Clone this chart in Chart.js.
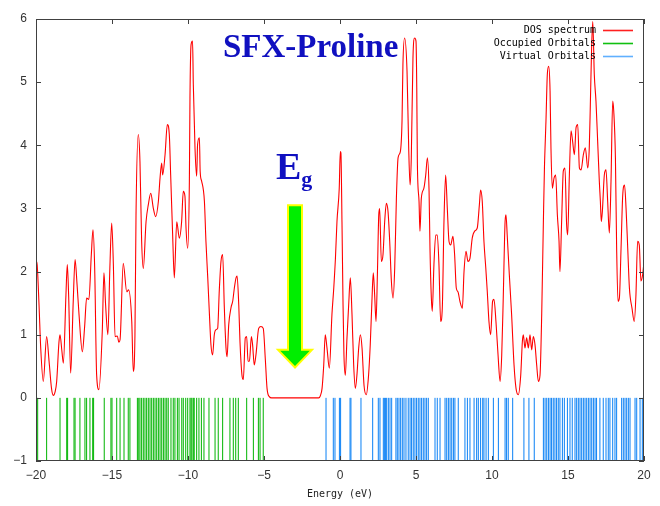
<!DOCTYPE html>
<html>
<head>
<meta charset="utf-8">
<script src="https://cdn.jsdelivr.net/npm/chart.js@4/dist/chart.umd.min.js"></script>
<style>
  html, body { margin: 0; padding: 0; background: #ffffff; }
  #wrap { width: 660px; height: 506px; }
</style>
</head>
<body>
<div id="wrap"><canvas id="dos" width="660" height="506"></canvas></div>
<script>
// Density of states (broadened), energy in eV
const dosEnergy = [
  -20.00, -19.97, -19.92, -19.80, -19.69, -19.52, -19.30, -19.14, -18.98, -18.86,
  -18.74, -18.64, -18.49, -18.42, -18.30, -18.20, -18.03, -17.94, -17.85, -17.72,
  -17.55, -17.43, -17.30, -17.17, -16.95, -16.80, -16.67, -16.52, -16.36, -16.25,
  -16.14, -16.01, -15.86, -15.64, -15.53, -15.42, -15.27, -15.14, -15.02, -14.91,
  -14.80, -14.65, -14.55, -14.47, -14.26, -14.03, -13.91, -13.70, -13.60, -13.49,
  -13.42, -13.27, -13.16, -13.05, -12.94, -12.76, -12.61, -12.45, -12.28, -12.13,
  -11.95, -11.84, -11.73, -11.67, -11.51, -11.36, -11.23, -11.14, -11.01, -10.90,
  -10.74, -10.57, -10.42, -10.31, -10.20, -10.13, -10.02, -9.91, -9.87, -9.80,
  -9.70, -9.65, -9.54, -9.43, -9.37, -9.25, -9.20, -9.10, -8.92, -8.82,
  -8.70, -8.59, -8.49, -8.38, -8.27, -8.16, -8.05, -7.94, -7.83, -7.72,
  -7.61, -7.50, -7.43, -7.32, -7.17, -7.06, -6.95, -6.84, -6.77, -6.66,
  -6.58, -6.45, -6.36, -6.23, -6.14, -6.05, -5.96, -5.83, -5.75, -5.64,
  -5.53, -5.35, -5.20, -5.05, -4.91, -4.80, -4.65, -4.50, -3.00, -1.40,
  -1.30, -1.18, -1.07, -0.97, -0.86, -0.70, -0.53, -0.41, -0.30, -0.20,
  -0.05, 0.02, 0.06, 0.13, 0.20, 0.26, 0.35, 0.46, 0.57, 0.68,
  0.79, 0.90, 1.01, 1.12, 1.23, 1.34, 1.45, 1.58, 1.73, 1.88,
  1.99, 2.10, 2.19, 2.28, 2.37, 2.46, 2.55, 2.61, 2.72, 2.83,
  2.94, 3.05, 3.16, 3.27, 3.38, 3.49, 3.60, 3.71, 3.82, 3.97,
  4.08, 4.14, 4.25, 4.41, 4.52, 4.61, 4.69, 4.80, 4.91, 5.00,
  5.05, 5.09, 5.20, 5.26, 5.35, 5.52, 5.64, 5.75, 5.86, 5.92,
  6.01, 6.07, 6.18, 6.30, 6.40, 6.51, 6.62, 6.73, 6.84, 6.95,
  7.06, 7.17, 7.28, 7.43, 7.54, 7.65, 7.76, 7.89, 8.05, 8.16,
  8.29, 8.42, 8.55, 8.70, 8.86, 9.03, 9.17, 9.25, 9.36, 9.47,
  9.59, 9.69, 9.80, 9.91, 10.04, 10.13, 10.26, 10.41, 10.53, 10.64,
  10.74, 10.86, 10.92, 11.00, 11.14, 11.29, 11.45, 11.58, 11.73, 11.89,
  12.00, 12.06, 12.17, 12.28, 12.39, 12.50, 12.61, 12.72, 12.83, 12.94,
  13.05, 13.16, 13.27, 13.38, 13.45, 13.55, 13.64, 13.73, 13.82, 13.88,
  13.97, 14.08, 14.19, 14.30, 14.41, 14.47, 14.58, 14.69, 14.80, 14.91,
  14.98, 15.09, 15.20, 15.30, 15.42, 15.53, 15.64, 15.75, 15.86, 16.01,
  16.14, 16.30, 16.40, 16.47, 16.56, 16.63, 16.73, 16.84, 16.95, 17.06,
  17.13, 17.19, 17.26, 17.39, 17.50, 17.61, 17.72, 17.83, 17.94, 18.01,
  18.12, 18.20, 18.29, 18.38, 18.49, 18.60, 18.72, 18.82, 18.93, 19.04,
  19.21, 19.36, 19.47, 19.58, 19.69, 19.80, 19.91, 20.00
];
const dosValue = [
  1.76, 2.16, 2.10, 1.47, 0.79, 0.26, 0.97, 0.58, 0.15, 0.04,
  0.10, 0.26, 0.88, 1.00, 0.75, 0.55, 1.63, 2.11, 1.60, 0.39,
  1.53, 2.19, 1.80, 1.32, 0.73, 1.13, 1.58, 1.56, 2.27, 2.66,
  2.06, 0.36, 0.13, 1.05, 1.98, 1.47, 1.00, 2.06, 2.77, 2.11,
  0.97, 0.98, 0.88, 0.92, 2.13, 1.68, 1.71, 1.21, 0.42, 1.00,
  2.90, 4.17, 3.74, 2.48, 2.05, 2.79, 3.06, 3.24, 3.00, 2.87,
  3.11, 3.48, 3.72, 3.53, 3.85, 4.33, 4.17, 3.53, 2.58, 1.90,
  2.79, 2.53, 2.79, 3.27, 3.19, 2.69, 2.37, 3.43, 4.75, 5.59,
  5.65, 4.96, 3.96, 3.51, 4.01, 4.12, 3.59, 3.43, 3.11, 2.48,
  1.90, 1.32, 0.84, 0.68, 1.00, 1.08, 1.10, 1.71, 2.16, 2.27,
  1.43, 0.79, 0.65, 1.16, 1.43, 1.53, 1.74, 1.90, 1.93, 1.47,
  0.89, 0.36, 0.29, 0.95, 0.97, 0.58, 0.58, 0.97, 0.84, 0.52,
  0.68, 1.10, 1.13, 1.10, 0.60, 0.15, 0.02, 0.00, 0.00, 0.00,
  0.03, 0.15, 0.52, 1.00, 0.80, 0.47, 1.32, 1.74, 2.21, 2.79,
  3.32, 3.90, 3.88, 2.79, 1.47, 0.68, 0.36, 0.95, 1.47, 1.90,
  1.32, 0.52, 0.15, 0.38, 0.79, 1.00, 0.79, 0.20, 0.05, 0.36,
  0.84, 1.53, 1.98, 1.63, 1.21, 1.95, 2.90, 3.00, 2.16, 2.27,
  2.79, 3.08, 2.95, 2.48, 1.85, 1.58, 2.06, 3.16, 3.80, 3.90,
  4.38, 5.28, 5.70, 5.17, 3.95, 3.37, 3.80, 5.38, 5.70, 5.65,
  4.91, 3.72, 3.11, 2.64, 3.16, 3.32, 3.53, 3.80, 3.27, 2.37,
  1.58, 1.37, 2.11, 2.58, 2.58, 2.11, 1.21, 1.42, 2.79, 3.53,
  3.00, 2.48, 2.42, 2.56, 2.27, 1.74, 1.68, 1.53, 1.42, 2.00,
  2.32, 2.16, 2.21, 2.53, 2.64, 2.69, 3.06, 3.29, 3.11, 2.48,
  2.06, 1.68, 1.21, 1.00, 1.53, 1.56, 1.21, 0.63, 0.26, 0.68,
  1.58, 2.79, 2.90, 2.58, 1.95, 1.32, 0.52, 0.15, 0.05, 0.36,
  0.90, 1.00, 0.79, 0.95, 0.79, 1.00, 0.76, 0.97, 0.84, 0.52,
  0.26, 0.36, 1.32, 2.79, 3.64, 4.38, 5.12, 5.25, 4.86, 3.95,
  3.32, 3.48, 3.53, 2.90, 2.48, 2.00, 2.79, 3.59, 3.64, 2.74,
  2.58, 3.53, 4.23, 4.07, 3.85, 4.28, 4.33, 3.64, 3.61, 3.85,
  3.96, 3.64, 3.96, 4.65, 5.60, 5.96, 5.12, 4.70, 4.07, 3.43,
  3.11, 2.79, 2.95, 3.53, 3.61, 3.11, 2.61, 3.43, 4.70, 4.54,
  3.80, 2.37, 1.53, 1.58, 2.37, 3.21, 3.37, 3.00, 2.37, 1.74,
  1.42, 1.21, 1.63, 2.48, 2.42, 1.85, 1.95, 2.16
];

// Orbital eigenvalues (eV)
const occupiedLevels = [
  -19.96, -19.89, -19.30, -18.42, -17.98, -17.92, -17.50, -17.43, -17.11, -16.78,
  -16.67, -16.45, -16.27, -16.21, -15.51, -15.07, -15.00, -14.69, -14.47, -14.21,
  -13.93, -13.82, -13.33, -13.24, -13.16, -13.05, -12.94, -12.83, -12.72, -12.61,
  -12.50, -12.39, -12.28, -12.17, -12.06, -11.95, -11.84, -11.73, -11.62, -11.51,
  -11.40, -11.30, -11.12, -10.97, -10.86, -10.70, -10.59, -10.41, -10.31, -10.15,
  -10.02, -9.87, -9.80, -9.74, -9.65, -9.59, -9.43, -9.28, -9.12, -8.95,
  -8.62, -8.22, -8.01, -7.72, -7.24, -7.02, -6.86, -6.69, -6.14, -5.70,
  -5.37, -5.26, -5.05
];
const virtualLevels = [
  -0.92, -0.44, -0.33, -0.04, 0.04, 0.66, 0.72, 1.38, 2.15, 2.52,
  2.63, 2.85, 2.92, 3.00, 3.07, 3.18, 3.29, 3.40, 3.68, 3.77,
  3.88, 3.99, 4.10, 4.21, 4.34, 4.49, 4.61, 4.71, 4.82, 4.93,
  5.04, 5.15, 5.26, 5.37, 5.48, 5.59, 5.70, 5.81, 6.25, 6.40,
  6.58, 6.91, 7.02, 7.13, 7.24, 7.35, 7.46, 7.56, 7.78, 8.22,
  8.38, 8.55, 8.82, 8.99, 9.10, 9.25, 9.39, 9.47, 9.61, 9.76,
  10.09, 10.42, 10.86, 10.96, 11.07, 11.36, 12.10, 12.43, 12.78, 13.38,
  13.49, 13.60, 13.71, 13.82, 13.92, 14.03, 14.14, 14.25, 14.36, 14.47,
  14.63, 14.76, 14.96, 15.13, 15.28, 15.46, 15.57, 15.68, 15.79, 15.90,
  16.01, 16.12, 16.23, 16.34, 16.45, 16.56, 16.67, 16.78, 16.88, 17.10,
  17.32, 17.50, 17.65, 17.76, 17.94, 18.09, 18.20, 18.53, 18.64, 18.75,
  18.86, 18.97, 19.08, 19.41, 19.52, 19.74, 19.89, 20.00
];

const xTicks = [-20, -15, -10, -5, 0, 5, 10, 15, 20];
const yTicks = [-1, 0, 1, 2, 3, 4, 5, 6];

const seriesNames = ['DOS spectrum', 'Occupied Orbitals', 'Virtual Orbitals'];
const seriesColors = ['#ff0000', '#00b400', '#0a80f5'];
const keyColors = ['#ff2020', '#10c010', '#60b0ff'];

// each level becomes a stick from -1 to 0, separated by gaps
function sticks(levels) {
  const pts = [];
  levels.forEach(e => {
    pts.push({ x: e, y: -1 }, { x: e, y: 0 }, { x: e, y: null });
  });
  return pts;
}

const dosPoints = dosEnergy.map((e, i) => ({ x: e, y: dosValue[i] }));

const decor = {
  id: 'decor',
  afterDatasetsDraw(chart) {
    const { ctx, chartArea: a, scales: { x, y } } = chart;
    ctx.save();

    // plot frame
    ctx.strokeStyle = '#404040';
    ctx.lineWidth = 1;
    ctx.strokeRect(a.left + 0.5, a.top + 0.5, a.right - a.left - 1, a.bottom - a.top - 1);

    // inward tick marks on all four sides
    ctx.beginPath();
    xTicks.forEach(v => {
      const px = Math.round(x.getPixelForValue(v)) + 0.5;
      ctx.moveTo(px, a.bottom); ctx.lineTo(px, a.bottom - 5);
      ctx.moveTo(px, a.top); ctx.lineTo(px, a.top + 5);
    });
    yTicks.forEach(v => {
      const py = Math.round(y.getPixelForValue(v)) + 0.5;
      ctx.moveTo(a.left, py); ctx.lineTo(a.left + 5, py);
      ctx.moveTo(a.right, py); ctx.lineTo(a.right - 5, py);
    });
    ctx.stroke();

    // key, top right inside the plot
    ctx.font = '10px "DejaVu Sans Mono", monospace';
    ctx.textAlign = 'right';
    ctx.textBaseline = 'middle';
    const keyRight = a.right - 48;
    seriesNames.forEach((name, i) => {
      const rowY = a.top + 11 + i * 13;
      ctx.fillStyle = '#000000';
      ctx.fillText(name, keyRight, rowY);
      ctx.strokeStyle = keyColors[i];
      ctx.lineWidth = 1.6;
      ctx.beginPath();
      ctx.moveTo(keyRight + 7, rowY + 0.5);
      ctx.lineTo(keyRight + 37, rowY + 0.5);
      ctx.stroke();
    });

    // heading
    ctx.fillStyle = '#1010c0';
    ctx.textAlign = 'left';
    ctx.textBaseline = 'alphabetic';
    ctx.font = 'bold 33px "Liberation Serif", "Times New Roman", serif';
    ctx.fillText('SFX-Proline', x.getPixelForValue(-7.70), y.getPixelForValue(5.40));

    // band-gap label
    const gx = x.getPixelForValue(-4.21);
    const gy = y.getPixelForValue(3.46);
    ctx.font = 'bold 38px "Liberation Serif", "Times New Roman", serif';
    ctx.fillText('E', gx, gy);
    const ew = ctx.measureText('E').width;
    ctx.font = 'bold 22px "Liberation Serif", "Times New Roman", serif';
    ctx.fillText('g', gx + ew, gy + 7);

    // downward arrow into the gap
    const cx = x.getPixelForValue(-2.96);
    const top = y.getPixelForValue(3.05);
    const neck = y.getPixelForValue(0.76);
    const tip = y.getPixelForValue(0.48);
    const sw = 7, hw = 17;
    ctx.beginPath();
    ctx.moveTo(cx - sw, top);
    ctx.lineTo(cx + sw, top);
    ctx.lineTo(cx + sw, neck);
    ctx.lineTo(cx + hw, neck);
    ctx.lineTo(cx, tip);
    ctx.lineTo(cx - hw, neck);
    ctx.lineTo(cx - sw, neck);
    ctx.closePath();
    ctx.fillStyle = '#00ee00';
    ctx.fill();
    ctx.strokeStyle = '#ffff00';
    ctx.lineWidth = 2;
    ctx.lineJoin = 'miter';
    ctx.stroke();

    ctx.restore();
  }
};

new Chart(document.getElementById('dos'), {
  type: 'line',
  data: {
    datasets: [
      {
        label: seriesNames[0],
        data: dosPoints,
        borderColor: seriesColors[0],
        borderWidth: 1.1,
        pointRadius: 0,
        cubicInterpolationMode: 'monotone',
        fill: false,
        order: 1
      },
      {
        label: seriesNames[1],
        data: sticks(occupiedLevels),
        borderColor: seriesColors[1],
        borderWidth: 1,
        pointRadius: 0,
        spanGaps: false,
        order: 2
      },
      {
        label: seriesNames[2],
        data: sticks(virtualLevels),
        borderColor: seriesColors[2],
        borderWidth: 1,
        pointRadius: 0,
        spanGaps: false,
        order: 3
      }
    ]
  },
  options: {
    responsive: false,
    devicePixelRatio: 1,
    animation: false,
    layout: { padding: { top: 19, right: 16, left: 0, bottom: 0 } },
    plugins: {
      legend: { display: false },
      tooltip: { enabled: false }
    },
    scales: {
      x: {
        type: 'linear',
        min: -20,
        max: 20,
        afterBuildTicks: s => { s.ticks = xTicks.map(v => ({ value: v })); },
        afterFit: s => { s.height = 45; },
        grid: { display: false, drawTicks: false },
        border: { display: false },
        ticks: {
          padding: 7,
          color: '#333333',
          font: { family: '"Liberation Sans", Arial, sans-serif', size: 12 },
          callback: v => String(v).replace('-', '\u2212')
        },
        title: {
          display: true,
          text: 'Energy (eV)',
          color: '#222222',
          font: { family: '"DejaVu Sans Mono", monospace', size: 10 },
          padding: { top: 0, bottom: 6 }
        }
      },
      y: {
        type: 'linear',
        min: -1,
        max: 6,
        afterBuildTicks: s => { s.ticks = yTicks.map(v => ({ value: v })); },
        afterFit: s => { s.width = 36; },
        grid: { display: false, drawTicks: false },
        border: { display: false },
        ticks: {
          padding: 9,
          color: '#333333',
          font: { family: '"Liberation Sans", Arial, sans-serif', size: 12 },
          callback: v => String(v).replace('-', '\u2212')
        }
      }
    }
  },
  plugins: [decor]
});
</script>
</body>
</html>
